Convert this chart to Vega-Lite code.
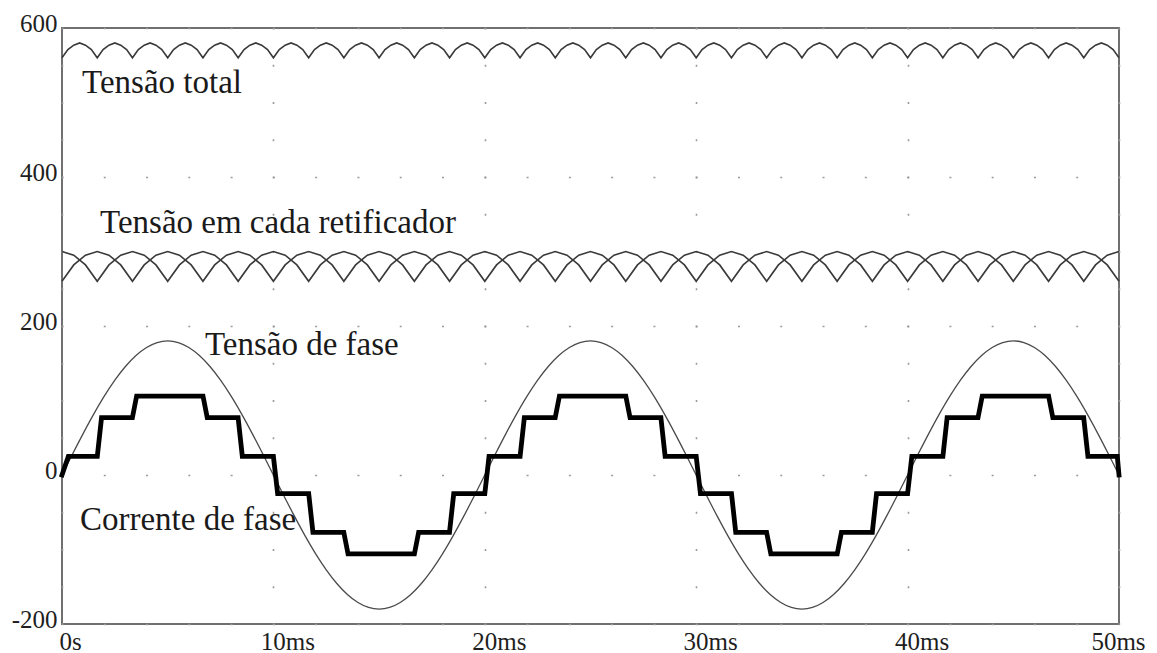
{
"$schema": "https://vega.github.io/schema/vega-lite/v6.json",
"width": 1057, "height": 596,
"autosize": {"type": "none"},
"padding": {"left": 62, "top": 28, "right": 38, "bottom": 29},
"background": "white",
"config": {"view": {"stroke": "#707070", "strokeWidth": 2}, "font": "Liberation Serif"},
"datasets": {
"tot": [
{"t":0,"v":560},{"t":0.278,"v":571},{"t":0.556,"v":577},{"t":0.833,"v":580},{"t":1.111,"v":577},{"t":1.389,"v":571},
{"t":1.667,"v":560},{"t":1.944,"v":571},{"t":2.222,"v":577},{"t":2.5,"v":580},{"t":2.778,"v":577},{"t":3.056,"v":571},
{"t":3.333,"v":560},{"t":3.611,"v":571},{"t":3.889,"v":577},{"t":4.167,"v":580},{"t":4.444,"v":577},{"t":4.722,"v":571},
{"t":5,"v":560},{"t":5.278,"v":571},{"t":5.556,"v":577},{"t":5.833,"v":580},{"t":6.111,"v":577},{"t":6.389,"v":571},
{"t":6.667,"v":560},{"t":6.944,"v":571},{"t":7.222,"v":577},{"t":7.5,"v":580},{"t":7.778,"v":577},{"t":8.056,"v":571},
{"t":8.333,"v":560},{"t":8.611,"v":571},{"t":8.889,"v":577},{"t":9.167,"v":580},{"t":9.444,"v":577},{"t":9.722,"v":571},
{"t":10,"v":560},{"t":10.278,"v":571},{"t":10.556,"v":577},{"t":10.833,"v":580},{"t":11.111,"v":577},{"t":11.389,"v":571},
{"t":11.667,"v":560},{"t":11.944,"v":571},{"t":12.222,"v":577},{"t":12.5,"v":580},{"t":12.778,"v":577},{"t":13.056,"v":571},
{"t":13.333,"v":560},{"t":13.611,"v":571},{"t":13.889,"v":577},{"t":14.167,"v":580},{"t":14.444,"v":577},{"t":14.722,"v":571},
{"t":15,"v":560},{"t":15.278,"v":571},{"t":15.556,"v":577},{"t":15.833,"v":580},{"t":16.111,"v":577},{"t":16.389,"v":571},
{"t":16.667,"v":560},{"t":16.944,"v":571},{"t":17.222,"v":577},{"t":17.5,"v":580},{"t":17.778,"v":577},{"t":18.056,"v":571},
{"t":18.333,"v":560},{"t":18.611,"v":571},{"t":18.889,"v":577},{"t":19.167,"v":580},{"t":19.444,"v":577},{"t":19.722,"v":571},
{"t":20,"v":560},{"t":20.278,"v":571},{"t":20.556,"v":577},{"t":20.833,"v":580},{"t":21.111,"v":577},{"t":21.389,"v":571},
{"t":21.667,"v":560},{"t":21.944,"v":571},{"t":22.222,"v":577},{"t":22.5,"v":580},{"t":22.778,"v":577},{"t":23.056,"v":571},
{"t":23.333,"v":560},{"t":23.611,"v":571},{"t":23.889,"v":577},{"t":24.167,"v":580},{"t":24.444,"v":577},{"t":24.722,"v":571},
{"t":25,"v":560},{"t":25.278,"v":571},{"t":25.556,"v":577},{"t":25.833,"v":580},{"t":26.111,"v":577},{"t":26.389,"v":571},
{"t":26.667,"v":560},{"t":26.944,"v":571},{"t":27.222,"v":577},{"t":27.5,"v":580},{"t":27.778,"v":577},{"t":28.056,"v":571},
{"t":28.333,"v":560},{"t":28.611,"v":571},{"t":28.889,"v":577},{"t":29.167,"v":580},{"t":29.444,"v":577},{"t":29.722,"v":571},
{"t":30,"v":560},{"t":30.278,"v":571},{"t":30.556,"v":577},{"t":30.833,"v":580},{"t":31.111,"v":577},{"t":31.389,"v":571},
{"t":31.667,"v":560},{"t":31.944,"v":571},{"t":32.222,"v":577},{"t":32.5,"v":580},{"t":32.778,"v":577},{"t":33.056,"v":571},
{"t":33.333,"v":560},{"t":33.611,"v":571},{"t":33.889,"v":577},{"t":34.167,"v":580},{"t":34.444,"v":577},{"t":34.722,"v":571},
{"t":35,"v":560},{"t":35.278,"v":571},{"t":35.556,"v":577},{"t":35.833,"v":580},{"t":36.111,"v":577},{"t":36.389,"v":571},
{"t":36.667,"v":560},{"t":36.944,"v":571},{"t":37.222,"v":577},{"t":37.5,"v":580},{"t":37.778,"v":577},{"t":38.056,"v":571},
{"t":38.333,"v":560},{"t":38.611,"v":571},{"t":38.889,"v":577},{"t":39.167,"v":580},{"t":39.444,"v":577},{"t":39.722,"v":571},
{"t":40,"v":560},{"t":40.278,"v":571},{"t":40.556,"v":577},{"t":40.833,"v":580},{"t":41.111,"v":577},{"t":41.389,"v":571},
{"t":41.667,"v":560},{"t":41.944,"v":571},{"t":42.222,"v":577},{"t":42.5,"v":580},{"t":42.778,"v":577},{"t":43.056,"v":571},
{"t":43.333,"v":560},{"t":43.611,"v":571},{"t":43.889,"v":577},{"t":44.167,"v":580},{"t":44.444,"v":577},{"t":44.722,"v":571},
{"t":45,"v":560},{"t":45.278,"v":571},{"t":45.556,"v":577},{"t":45.833,"v":580},{"t":46.111,"v":577},{"t":46.389,"v":571},
{"t":46.667,"v":560},{"t":46.944,"v":571},{"t":47.222,"v":577},{"t":47.5,"v":580},{"t":47.778,"v":577},{"t":48.056,"v":571},
{"t":48.333,"v":560},{"t":48.611,"v":571},{"t":48.889,"v":577},{"t":49.167,"v":580},{"t":49.444,"v":577},{"t":49.722,"v":571},
{"t":50,"v":560}
],
"ra": [
{"t":0,"v":260},{"t":0.556,"v":282},{"t":1.111,"v":295},{"t":1.667,"v":300},{"t":2.222,"v":295},{"t":2.778,"v":282},
{"t":3.333,"v":260},{"t":3.889,"v":282},{"t":4.444,"v":295},{"t":5,"v":300},{"t":5.556,"v":295},{"t":6.111,"v":282},
{"t":6.667,"v":260},{"t":7.222,"v":282},{"t":7.778,"v":295},{"t":8.333,"v":300},{"t":8.889,"v":295},{"t":9.444,"v":282},
{"t":10,"v":260},{"t":10.556,"v":282},{"t":11.111,"v":295},{"t":11.667,"v":300},{"t":12.222,"v":295},{"t":12.778,"v":282},
{"t":13.333,"v":260},{"t":13.889,"v":282},{"t":14.444,"v":295},{"t":15,"v":300},{"t":15.556,"v":295},{"t":16.111,"v":282},
{"t":16.667,"v":260},{"t":17.222,"v":282},{"t":17.778,"v":295},{"t":18.333,"v":300},{"t":18.889,"v":295},{"t":19.444,"v":282},
{"t":20,"v":260},{"t":20.556,"v":282},{"t":21.111,"v":295},{"t":21.667,"v":300},{"t":22.222,"v":295},{"t":22.778,"v":282},
{"t":23.333,"v":260},{"t":23.889,"v":282},{"t":24.444,"v":295},{"t":25,"v":300},{"t":25.556,"v":295},{"t":26.111,"v":282},
{"t":26.667,"v":260},{"t":27.222,"v":282},{"t":27.778,"v":295},{"t":28.333,"v":300},{"t":28.889,"v":295},{"t":29.444,"v":282},
{"t":30,"v":260},{"t":30.556,"v":282},{"t":31.111,"v":295},{"t":31.667,"v":300},{"t":32.222,"v":295},{"t":32.778,"v":282},
{"t":33.333,"v":260},{"t":33.889,"v":282},{"t":34.444,"v":295},{"t":35,"v":300},{"t":35.556,"v":295},{"t":36.111,"v":282},
{"t":36.667,"v":260},{"t":37.222,"v":282},{"t":37.778,"v":295},{"t":38.333,"v":300},{"t":38.889,"v":295},{"t":39.444,"v":282},
{"t":40,"v":260},{"t":40.556,"v":282},{"t":41.111,"v":295},{"t":41.667,"v":300},{"t":42.222,"v":295},{"t":42.778,"v":282},
{"t":43.333,"v":260},{"t":43.889,"v":282},{"t":44.444,"v":295},{"t":45,"v":300},{"t":45.556,"v":295},{"t":46.111,"v":282},
{"t":46.667,"v":260},{"t":47.222,"v":282},{"t":47.778,"v":295},{"t":48.333,"v":300},{"t":48.889,"v":295},{"t":49.444,"v":282},
{"t":50,"v":260}
],
"rb": [
{"t":0,"v":300},{"t":0.556,"v":295},{"t":1.111,"v":282},{"t":1.667,"v":260},{"t":2.222,"v":282},{"t":2.778,"v":295},
{"t":3.333,"v":300},{"t":3.889,"v":295},{"t":4.444,"v":282},{"t":5,"v":260},{"t":5.556,"v":282},{"t":6.111,"v":295},
{"t":6.667,"v":300},{"t":7.222,"v":295},{"t":7.778,"v":282},{"t":8.333,"v":260},{"t":8.889,"v":282},{"t":9.444,"v":295},
{"t":10,"v":300},{"t":10.556,"v":295},{"t":11.111,"v":282},{"t":11.667,"v":260},{"t":12.222,"v":282},{"t":12.778,"v":295},
{"t":13.333,"v":300},{"t":13.889,"v":295},{"t":14.444,"v":282},{"t":15,"v":260},{"t":15.556,"v":282},{"t":16.111,"v":295},
{"t":16.667,"v":300},{"t":17.222,"v":295},{"t":17.778,"v":282},{"t":18.333,"v":260},{"t":18.889,"v":282},{"t":19.444,"v":295},
{"t":20,"v":300},{"t":20.556,"v":295},{"t":21.111,"v":282},{"t":21.667,"v":260},{"t":22.222,"v":282},{"t":22.778,"v":295},
{"t":23.333,"v":300},{"t":23.889,"v":295},{"t":24.444,"v":282},{"t":25,"v":260},{"t":25.556,"v":282},{"t":26.111,"v":295},
{"t":26.667,"v":300},{"t":27.222,"v":295},{"t":27.778,"v":282},{"t":28.333,"v":260},{"t":28.889,"v":282},{"t":29.444,"v":295},
{"t":30,"v":300},{"t":30.556,"v":295},{"t":31.111,"v":282},{"t":31.667,"v":260},{"t":32.222,"v":282},{"t":32.778,"v":295},
{"t":33.333,"v":300},{"t":33.889,"v":295},{"t":34.444,"v":282},{"t":35,"v":260},{"t":35.556,"v":282},{"t":36.111,"v":295},
{"t":36.667,"v":300},{"t":37.222,"v":295},{"t":37.778,"v":282},{"t":38.333,"v":260},{"t":38.889,"v":282},{"t":39.444,"v":295},
{"t":40,"v":300},{"t":40.556,"v":295},{"t":41.111,"v":282},{"t":41.667,"v":260},{"t":42.222,"v":282},{"t":42.778,"v":295},
{"t":43.333,"v":300},{"t":43.889,"v":295},{"t":44.444,"v":282},{"t":45,"v":260},{"t":45.556,"v":282},{"t":46.111,"v":295},
{"t":46.667,"v":300},{"t":47.222,"v":295},{"t":47.778,"v":282},{"t":48.333,"v":260},{"t":48.889,"v":282},{"t":49.444,"v":295},
{"t":50,"v":300}
],
"sen": [
{"t":0,"v":0},{"t":0.5,"v":28.2},{"t":1,"v":55.6},{"t":1.5,"v":81.7},{"t":2,"v":105.8},{"t":2.5,"v":127.3},{"t":3,"v":145.6},{"t":3.5,"v":160.4},{"t":4,"v":171.2},{"t":4.5,"v":177.8},
{"t":5,"v":180},{"t":5.5,"v":177.8},{"t":6,"v":171.2},{"t":6.5,"v":160.4},{"t":7,"v":145.6},{"t":7.5,"v":127.3},{"t":8,"v":105.8},{"t":8.5,"v":81.7},{"t":9,"v":55.6},{"t":9.5,"v":28.2},
{"t":10,"v":0},{"t":10.5,"v":-28.2},{"t":11,"v":-55.6},{"t":11.5,"v":-81.7},{"t":12,"v":-105.8},{"t":12.5,"v":-127.3},{"t":13,"v":-145.6},{"t":13.5,"v":-160.4},{"t":14,"v":-171.2},{"t":14.5,"v":-177.8},
{"t":15,"v":-180},{"t":15.5,"v":-177.8},{"t":16,"v":-171.2},{"t":16.5,"v":-160.4},{"t":17,"v":-145.6},{"t":17.5,"v":-127.3},{"t":18,"v":-105.8},{"t":18.5,"v":-81.7},{"t":19,"v":-55.6},{"t":19.5,"v":-28.2},
{"t":20,"v":0},{"t":20.5,"v":28.2},{"t":21,"v":55.6},{"t":21.5,"v":81.7},{"t":22,"v":105.8},{"t":22.5,"v":127.3},{"t":23,"v":145.6},{"t":23.5,"v":160.4},{"t":24,"v":171.2},{"t":24.5,"v":177.8},
{"t":25,"v":180},{"t":25.5,"v":177.8},{"t":26,"v":171.2},{"t":26.5,"v":160.4},{"t":27,"v":145.6},{"t":27.5,"v":127.3},{"t":28,"v":105.8},{"t":28.5,"v":81.7},{"t":29,"v":55.6},{"t":29.5,"v":28.2},
{"t":30,"v":0},{"t":30.5,"v":-28.2},{"t":31,"v":-55.6},{"t":31.5,"v":-81.7},{"t":32,"v":-105.8},{"t":32.5,"v":-127.3},{"t":33,"v":-145.6},{"t":33.5,"v":-160.4},{"t":34,"v":-171.2},{"t":34.5,"v":-177.8},
{"t":35,"v":-180},{"t":35.5,"v":-177.8},{"t":36,"v":-171.2},{"t":36.5,"v":-160.4},{"t":37,"v":-145.6},{"t":37.5,"v":-127.3},{"t":38,"v":-105.8},{"t":38.5,"v":-81.7},{"t":39,"v":-55.6},{"t":39.5,"v":-28.2},
{"t":40,"v":0},{"t":40.5,"v":28.2},{"t":41,"v":55.6},{"t":41.5,"v":81.7},{"t":42,"v":105.8},{"t":42.5,"v":127.3},{"t":43,"v":145.6},{"t":43.5,"v":160.4},{"t":44,"v":171.2},{"t":44.5,"v":177.8},
{"t":45,"v":180},{"t":45.5,"v":177.8},{"t":46,"v":171.2},{"t":46.5,"v":160.4},{"t":47,"v":145.6},{"t":47.5,"v":127.3},{"t":48,"v":105.8},{"t":48.5,"v":81.7},{"t":49,"v":55.6},{"t":49.5,"v":28.2},
{"t":50,"v":0}
],
"cor": [
{"t":0,"v":0},{"t":0.3,"v":25},{"t":1.67,"v":25},{"t":1.87,"v":77},{"t":3.33,"v":77},{"t":3.53,"v":106},{"t":6.67,"v":106},{"t":6.87,"v":77},{"t":8.33,"v":77},{"t":8.53,"v":25},
{"t":10,"v":25},{"t":10.2,"v":-25},{"t":11.67,"v":-25},{"t":11.87,"v":-77},{"t":13.33,"v":-77},{"t":13.53,"v":-106},{"t":16.67,"v":-106},{"t":16.87,"v":-77},{"t":18.33,"v":-77},{"t":18.53,"v":-25},
{"t":20,"v":-25},{"t":20.2,"v":25},{"t":21.67,"v":25},{"t":21.87,"v":77},{"t":23.33,"v":77},{"t":23.53,"v":106},{"t":26.67,"v":106},{"t":26.87,"v":77},{"t":28.33,"v":77},{"t":28.53,"v":25},
{"t":30,"v":25},{"t":30.2,"v":-25},{"t":31.67,"v":-25},{"t":31.87,"v":-77},{"t":33.33,"v":-77},{"t":33.53,"v":-106},{"t":36.67,"v":-106},{"t":36.87,"v":-77},{"t":38.33,"v":-77},{"t":38.53,"v":-25},
{"t":40,"v":-25},{"t":40.2,"v":25},{"t":41.67,"v":25},{"t":41.87,"v":77},{"t":43.33,"v":77},{"t":43.53,"v":106},{"t":46.67,"v":106},{"t":46.87,"v":77},{"t":48.33,"v":77},{"t":48.53,"v":25},
{"t":49.92,"v":25},{"t":50,"v":0}
],
"lab": [
{"t":0.95,"v":513,"txt":"Tensão total"},
{"t":1.8,"v":325,"txt":"Tensão em cada retificador"},
{"t":6.76,"v":161,"txt":"Tensão de fase"},
{"t":0.85,"v":-74,"txt":"Corrente de fase"}
]
},
"encoding": {
"x": {"field": "t", "type": "quantitative", "title": null,
 "scale": {"domain": [0, 50], "nice": false, "zero": false},
 "axis": {"values": [0, 10, 20, 30, 40, 50],
  "labelExpr": "datum.value == 0 ? '0s' : datum.value + 'ms'",
  "labelFont": "Liberation Serif", "labelFontSize": 25, "labelColor": "#1e1e1e",
  "labelBaseline": "alphabetic", "labelAlign": "center", "labelPadding": 25,
  "labelOffset": {"condition": [{"test": "datum.value == 50", "value": -1}, {"test": "datum.value == 0", "value": 8}], "value": 14},
  "labelFlush": false, "labelOverlap": false, "ticks": false, "domain": false,
  "grid": true, "gridColor": "#9a9a9a", "gridWidth": 1.6, "gridDash": [2, 35.25], "gridDashOffset": 1}},
"y": {"field": "v", "type": "quantitative", "title": null,
 "scale": {"domain": [-200, 600], "nice": false, "zero": false},
 "axis": {"values": [-200, 0, 200, 400, 600],
  "labelExpr": "'' + datum.value",
  "labelFont": "Liberation Serif", "labelFontSize": 25, "labelColor": "#1e1e1e",
  "labelBaseline": "alphabetic", "labelOffset": 3, "labelPadding": 5,
  "labelFlush": false, "labelOverlap": false, "ticks": false, "domain": false,
  "grid": true, "gridColor": "#9a9a9a", "gridWidth": 1.6, "gridDash": [2, 40.28], "gridDashOffset": 1}}
},
"layer": [
{"data": {"name": "tot"}, "mark": {"type": "line", "color": "#3a3a3a", "strokeWidth": 1.6}},
{"data": {"name": "ra"}, "mark": {"type": "line", "color": "#3a3a3a", "strokeWidth": 1.6}},
{"data": {"name": "rb"}, "mark": {"type": "line", "color": "#3a3a3a", "strokeWidth": 1.6}},
{"data": {"name": "sen"}, "mark": {"type": "line", "color": "#4a4a4a", "strokeWidth": 1.3, "interpolate": "monotone"}},
{"data": {"name": "cor"}, "mark": {"type": "line", "color": "#000000", "strokeWidth": 4.8, "strokeJoin": "miter", "strokeCap": "square"}},
{"data": {"name": "lab"}, "mark": {"type": "text", "align": "left", "baseline": "alphabetic", "font": "Liberation Serif", "fontSize": 33, "color": "#1a1a1a"},
 "encoding": {"text": {"field": "txt", "type": "nominal"}}}
]
}
